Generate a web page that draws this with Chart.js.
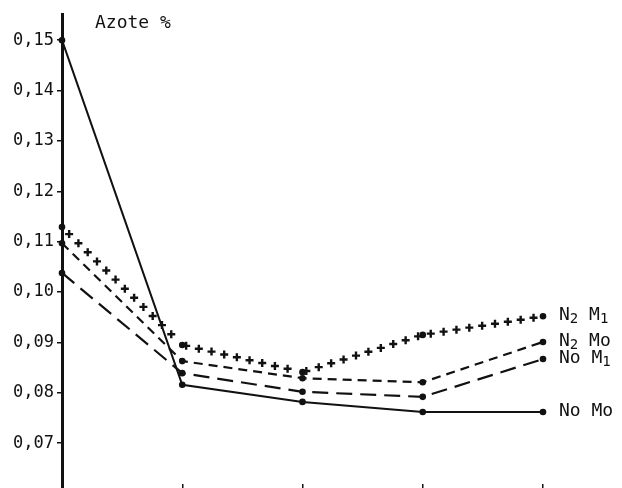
<!DOCTYPE html>
<html>
<head>
<meta charset="utf-8">
<script src="https://cdn.jsdelivr.net/npm/chart.js@4.4.0/dist/chart.umd.min.js"></script>
<style>
  html, body { margin: 0; padding: 0; background: #fff; }
</style>
</head>
<body>
<canvas id="chart" width="622" height="488"></canvas>
<script>
// sampling stages (no labels printed on the x axis)
const stages = ["1", "2", "3", "4", "5"];

// nitrogen content (%) per treatment
const n2M1 = [0.1129, 0.0895, 0.0841, 0.0915, 0.0952];
const n2Mo = [0.1097, 0.0863, 0.0829, 0.0821, 0.0901];
const noM1 = [0.1038, 0.0839, 0.0802, 0.0792, 0.0867];
const noMo = [0.1500, 0.0816, 0.0782, 0.0762, 0.0762];

// series names: [main, subscript, main, subscript]
const seriesNames = [
  ["N", "2", " M", "1"],
  ["N", "2", " Mo", ""],
  ["No M", "1", "", ""],
  ["No Mo", "", "", ""]
];
const yTicks = [0.07, 0.08, 0.09, 0.10, 0.11, 0.12, 0.13, 0.14, 0.15];
const yTitle = "Azote %";

const ink = "#111";
const monoFont = "'DejaVu Sans Mono', 'Liberation Mono', monospace";

// draws the "+" marks along the N2 M1 path and the series names at the right
const annotate = {
  id: "annotate",
  afterDatasetsDraw(chart) {
    const ctx = chart.ctx;
    ctx.save();
    chart.data.datasets.forEach((ds, i) => {
      const pts = chart.getDatasetMeta(i).data;
      if (ds.crosses) {
        ctx.strokeStyle = ink;
        ctx.lineWidth = 2.4;
        const step = 13, arm = 4;
        let carry = 10;
        for (let k = 0; k < pts.length - 1; k++) {
          const a = pts[k], b = pts[k + 1];
          const dx = b.x - a.x, dy = b.y - a.y;
          const len = Math.hypot(dx, dy);
          let d = carry;
          while (d < len - 4) {
            const cx = a.x + dx * d / len, cy = a.y + dy * d / len;
            ctx.beginPath();
            ctx.moveTo(cx - arm, cy); ctx.lineTo(cx + arm, cy);
            ctx.moveTo(cx, cy - arm); ctx.lineTo(cx, cy + arm);
            ctx.stroke();
            d += step;
          }
          carry = Math.max(d - len, 4);
        }
      }
      // series name next to the last point, with lowered subscripts
      const last = pts[pts.length - 1];
      ctx.fillStyle = ink;
      ctx.textAlign = "left";
      ctx.textBaseline = "middle";
      let x = last.x + 16;
      const y = last.y - 1;
      seriesNames[i].forEach((part, j) => {
        if (!part) return;
        const sub = j % 2 === 1;
        ctx.font = (sub ? "14px " : "18px ") + monoFont;
        ctx.fillText(part, x, sub ? y + 4 : y);
        x += ctx.measureText(part).width;
      });
    });
    // axis caption
    ctx.font = "18px " + monoFont;
    ctx.textBaseline = "middle";
    ctx.fillText(yTitle, 95, 23);
    ctx.restore();
  }
};

Chart.defaults.font.family = monoFont;
Chart.defaults.color = ink;

const common = {
  borderColor: ink,
  backgroundColor: ink,
  pointRadius: 3.3,
  pointBorderWidth: 0,
  fill: false,
  tension: 0
};

new Chart(document.getElementById("chart"), {
  type: "line",
  data: {
    labels: stages,
    datasets: [
      { ...common, data: n2M1, showLine: false, crosses: true },
      { ...common, data: n2Mo, borderWidth: 2.2, borderDash: [9, 6] },
      { ...common, data: noM1, borderWidth: 2.2, borderDash: [16, 8] },
      { ...common, data: noMo, borderWidth: 2 }
    ]
  },
  options: {
    responsive: false,
    animation: false,
    layout: { padding: { top: 14, right: 79, left: 0, bottom: 0 } },
    plugins: {
      legend: { display: false },
      tooltip: { enabled: false }
    },
    scales: {
      x: {
        type: "category",
        offset: false,
        afterFit: (scale) => { scale.height = 4; },
        border: { display: false },
        ticks: { display: false },
        grid: {
          drawOnChartArea: false,
          tickLength: 4,
          color: ink,
          lineWidth: (c) => (c.index === 0 ? 3 : 1.5)
        }
      },
      y: {
        min: 0.0619,
        max: 0.1552,
        afterFit: (scale) => {
          scale.width = 62;
          scale.paddingTop = 0;
          scale.paddingBottom = 0;
        },
        afterBuildTicks: (scale) => { scale.ticks = yTicks.map((v) => ({ value: v })); },
        border: { display: true, color: ink, width: 3 },
        grid: { drawOnChartArea: false, tickLength: 5, color: ink, lineWidth: 1.5 },
        ticks: {
          padding: 3,
          font: { size: 17 },
          color: ink,
          callback: (v) => v.toFixed(2).replace(".", ",")
        }
      }
    }
  },
  plugins: [annotate]
});
</script>
</body>
</html>
